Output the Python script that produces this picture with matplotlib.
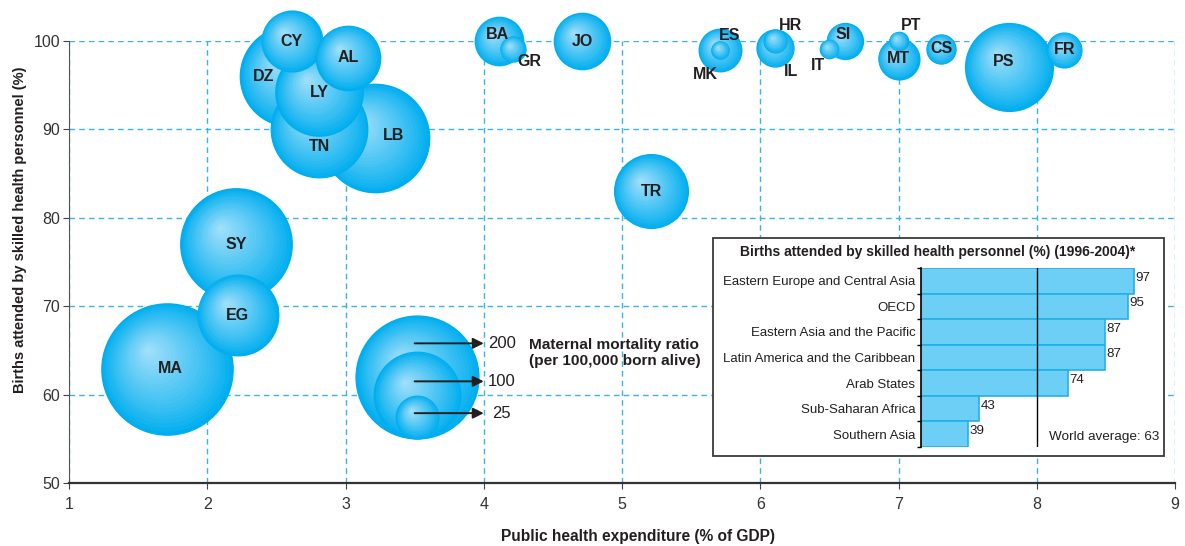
import numpy as np
import matplotlib.pyplot as plt
from matplotlib.colors import to_rgb
from matplotlib.transforms import ScaledTranslation
from matplotlib.patches import Rectangle

plt.rcParams['font.family'] = ['Liberation Sans', 'DejaVu Sans']

# ---- bubble data (drawing order = list order) ----
codes = ["LB", "DZ", "TN", "LY", "CY", "AL", "SY", "MA", "EG", "BA", "GR", "JO",
         "MK", "ES", "IL", "HR", "SI", "IT", "MT", "PT", "CS", "PS", "FR", "TR"]
expenditure = [3.21, 2.60, 2.81, 2.81, 2.61, 3.02, 2.21, 1.71, 2.22, 4.11, 4.21, 4.71,
               5.71, 5.71, 6.11, 6.11, 6.61, 6.50, 7.00, 7.00, 7.31, 7.80, 8.20, 5.21]
births = [89.0, 96.0, 90.0, 94.2, 100.0, 98.1, 77.0, 62.9, 69.0, 100.0, 99.1, 100.0,
          99.0, 99.0, 99.2, 100.0, 100.0, 99.1, 98.0, 100.0, 99.1, 97.1, 99.0, 83.0]
mortality = [156, 134, 124, 102, 50, 56, 165, 228, 87, 32, 9, 43,
             25, 4.5, 19, 7.5, 18, 5, 23, 5, 12, 103, 17, 73]

# label offsets in points (where the label sits off the bubble centre)
label_offset = {"DZ": (-19, 0), "TN": (0, -12), "LB": (14, 2), "BA": (-1, 5),
                "GR": (12, -9), "MK": (-11, -18), "ES": (7, 10), "IL": (11, -17),
                "HR": (11, 11), "IT": (-8, -12), "SI": (-1, 5), "PT": (9, 11),
                "PS": (-4, 4), "MA": (2, 0)}

legend_values = [200, 100, 25]
legend_arrow_y = [65.8, 61.5, 57.9]

# ---- inset data ----
regions = ["Eastern Europe and Central Asia", "OECD", "Eastern Asia and the Pacific",
           "Latin America and the Caribbean", "Arab States", "Sub-Saharan Africa",
           "Southern Asia"]
region_births = [97, 95, 87, 87, 74, 43, 39]
world_average = 63

W, H = 1185, 546
fig = plt.figure(figsize=(W / 100, H / 100), dpi=100)
ax = fig.add_axes([69 / W, 1 - 483 / H, 1106 / W, 442 / H])

EDGE = np.array(to_rgb('#00AEEF'))
LIGHT = np.array(to_rgb('#A6E1FA'))
SCALE = 40.0  # marker area (pt^2) per unit of maternal mortality


def bubble(x, y, v, lift=False, z=3):
    R = np.sqrt(SCALE * v) / 2  # radius in points
    n = 22
    for i in range(n):
        t = i / n
        dx = -0.3 * R * t / 72
        dy = (0.3 * R * t + (R if lift else 0)) / 72
        tr = ax.transData + ScaledTranslation(dx, dy, fig.dpi_scale_trans)
        col = EDGE + (LIGHT - EDGE) * t ** 0.9
        ax.scatter([x], [y], s=(2 * R * (1 - t)) ** 2, c=[tuple(col)], lw=0,
                   transform=tr, clip_on=False, zorder=z)


for c, x, y, v in zip(codes, expenditure, births, mortality):
    bubble(x, y, v)
    ox, oy = label_offset.get(c, (0, 0))
    ax.annotate(c, (x, y), xytext=(ox, oy), textcoords='offset points',
                ha='center', va='center', fontsize=11.5, fontweight='bold',
                color='#231F20', zorder=10, annotation_clip=False)

# size legend
for v in legend_values:
    bubble(3.52, 55.0, v, lift=True)
for v, ya in zip(legend_values, legend_arrow_y):
    ax.annotate('', xy=(4.0, ya), xytext=(3.5, ya),
                arrowprops=dict(arrowstyle='-|>', color='#231F20', lw=1.4,
                                mutation_scale=16, shrinkA=0, shrinkB=0), zorder=11)
    ax.text(4.03 if v >= 100 else 4.06, ya, str(v), ha='left', va='center',
            fontsize=12, color='#231F20', zorder=11)
ax.text(4.33, 64.7, 'Maternal mortality ratio\n(per 100,000 born alive)',
        ha='left', va='center', fontsize=11.1, fontweight='bold',
        color='#231F20', linespacing=1.2, zorder=11)

ax.set_xlim(1, 9)
ax.set_ylim(50, 100)
ax.set_xticks(range(1, 10))
ax.set_yticks(range(50, 101, 10))
ax.set_axisbelow(True)
ax.grid(True, color='#3BB3E6', linestyle=(0, (4, 3)), lw=1)
for s in ['top', 'right']:
    ax.spines[s].set_visible(False)
ax.spines['left'].set_color('#555555')
ax.spines['bottom'].set_color('#333333')
ax.spines['bottom'].set_linewidth(1.6)
ax.tick_params(length=4, color='#444444', labelsize=11.5, labelcolor='#333333')
ax.tick_params(axis='y', pad=2.5)
ax.tick_params(axis='x', pad=6)
ax.set_xlabel('Public health expenditure (% of GDP)', fontsize=11.2,
              fontweight='bold', color='#231F20', va='center')
ax.xaxis.set_label_coords((638 - 69) / 1106, (483 - 537) / 442)
ax.set_ylabel('Births attended by skilled health personnel (%)', fontsize=10.5,
              fontweight='bold', color='#231F20', va='center')
ax.yaxis.set_label_coords((20 - 69) / 1106, (483 - 230) / 442)

# ---- inset ----
fig.add_artist(Rectangle((713 / W, 1 - 456 / H), 451 / W, 218 / H,
                         transform=fig.transFigure, facecolor='white',
                         edgecolor='#3A3A3A', lw=1.3, zorder=1.5))
fig.text(938 / W, 1 - 252 / H,
         'Births attended by skilled health personnel (%) (1996-2004)*',
         ha='center', va='center', fontsize=10, fontweight='bold',
         color='#231F20', zorder=3)

ax2 = fig.add_axes([921 / W, 1 - 447 / H, 241 / W, 179 / H], zorder=2)
ax2.patch.set_visible(False)
yy = np.arange(len(regions))
ax2.barh(yy, region_births, height=1.0, color='#6DCFF6', edgecolor='#22B0E8', lw=1.2)
for i, v in enumerate(region_births):
    ax2.text(v + 0.4, i - 0.12, str(v), ha='left', va='center', fontsize=9.6,
             color='#231F20')
ax2.axvline(world_average, color='black', lw=1)
ax2.set_xlim(22.6, 22.6 + 241 / 2.86)
ax2.set_ylim(len(regions) - 0.5, -0.5)
ax2.set_yticks(yy)
ax2.set_yticklabels(regions)
ax2.set_yticks(np.arange(-0.5, len(regions)), minor=True)
ax2.tick_params(axis='y', which='major', length=0, labelsize=9.5,
                labelcolor='#231F20', pad=4)
ax2.tick_params(axis='y', which='minor', length=3, color='black', width=1)
ax2.set_xticks([])
for s in ['top', 'right', 'bottom']:
    ax2.spines[s].set_visible(False)
ax2.spines['left'].set_color('black')
ax2.spines['left'].set_linewidth(1.2)
fig.text(1159 / W, 1 - 437 / H, 'World average: %d' % world_average,
         ha='right', va='center', fontsize=9.7, color='#231F20', zorder=3)

fig.savefig('out.png', dpi=100)
